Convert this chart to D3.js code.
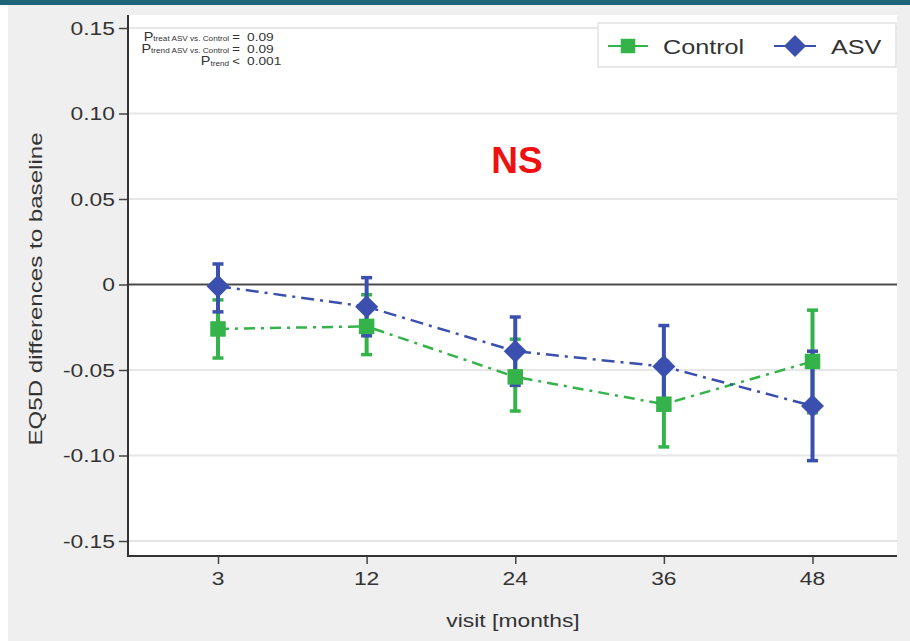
<!DOCTYPE html>
<html>
<head>
<meta charset="utf-8">
<script src="https://cdn.jsdelivr.net/npm/d3@7"></script>
<style>
  html, body { margin: 0; padding: 0; background: #ffffff; }
  svg { display: block; }
  text { font-family: "Liberation Sans", Arial, Helvetica, sans-serif; }
</style>
</head>
<body>
<svg id="chart" width="910" height="641"></svg>
<script>
// Visits (months) on the x axis
const visits = ["3", "12", "24", "36", "48"];

// Control group: mean change in EQ5D and 95% CI bounds
const controlMean  = [-0.026, -0.0245, -0.054, -0.070, -0.045];
const controlLower = [-0.043, -0.041, -0.074, -0.095, -0.075];
const controlUpper = [-0.009, -0.006, -0.032, -0.045, -0.015];

// ASV group: mean change in EQ5D and 95% CI bounds
const asvMean  = [-0.001, -0.013, -0.039, -0.048, -0.071];
const asvLower = [-0.016, -0.030, -0.059, -0.072, -0.103];
const asvUpper = [0.012, 0.004, -0.019, -0.024, -0.039];

// Y axis ticks
const yTicks = [0.15, 0.10, 0.05, 0, -0.05, -0.10, -0.15];
const yTickLabels = ["0.15", "0.10", "0.05", "0", "-0.05", "-0.10", "-0.15"];

// Annotation lines (p-values)
const pLabels = [
  { sub: "treat ASV vs. Control", op: "=", val: "0.09" },
  { sub: "trend ASV vs. Control", op: "=", val: "0.09" },
  { sub: "trend", op: "<", val: "0.001" }
];

const GREEN = "#34b34a";
const BLUE = "#3b50ae";
const INK = "#333333";
const WIDE = 1.27; // horizontal widening of the axis lettering

const svg = d3.select("#chart");

// text drawn with a horizontal widening along its reading direction
function wideText(parent, x, y, str, size, anchor, stretch, rotate) {
  return parent.append("text")
    .attr("transform", `translate(${x},${y})` + (rotate ? ` rotate(${rotate})` : "") + ` scale(${stretch},1)`)
    .attr("text-anchor", anchor)
    .attr("font-size", size)
    .attr("fill", INK)
    .text(str);
}

// page frame: teal header strip and grey panel
svg.append("rect").attr("x", 0).attr("y", 0).attr("width", 910).attr("height", 641).attr("fill", "#ffffff");
svg.append("rect").attr("x", 8).attr("y", 4).attr("width", 902).attr("height", 637).attr("fill", "#efefef");
svg.append("rect").attr("x", 0).attr("y", 0).attr("width", 910).attr("height", 5).attr("fill", "#1d6479");

const plot = { left: 128, right: 897, top: 15, bottom: 556 };

svg.append("rect")
  .attr("x", plot.left).attr("y", plot.top)
  .attr("width", plot.right - plot.left).attr("height", plot.bottom - plot.top)
  .attr("fill", "#ffffff");

const x = d3.scalePoint().domain(visits).range([218, 812.5]);
const y = d3.scaleLinear().domain([-0.15, 0.15]).range([541, 28]);

// horizontal gridlines
svg.append("g").selectAll("line")
  .data(yTicks.filter(d => d !== 0))
  .join("line")
  .attr("x1", plot.left).attr("x2", plot.right)
  .attr("y1", d => y(d)).attr("y2", d => y(d))
  .attr("stroke", "#e6e6e6").attr("stroke-width", 2);

// zero reference line
svg.append("line")
  .attr("x1", plot.left).attr("x2", plot.right)
  .attr("y1", y(0)).attr("y2", y(0))
  .attr("stroke", "#4a4a4a").attr("stroke-width", 2);

// y axis (ticks from the axis generator, widened labels)
const yAxis = d3.axisLeft(y).tickValues(yTicks).tickSize(9).tickFormat("");
const gy = svg.append("g").attr("transform", `translate(${plot.left},0)`).call(yAxis);
gy.select(".domain").remove();
gy.selectAll(".tick line").attr("stroke", "#444").attr("stroke-width", 1.5);
yTicks.forEach((t, i) => {
  wideText(svg, plot.left - 13, y(t) + 6.5, yTickLabels[i], 18, "end", WIDE);
});
svg.append("line")
  .attr("x1", plot.left).attr("x2", plot.left)
  .attr("y1", plot.top).attr("y2", plot.bottom)
  .attr("stroke", INK).attr("stroke-width", 2);

// x axis
const xAxis = d3.axisBottom(x).tickSize(8).tickFormat("");
const gx = svg.append("g").attr("transform", `translate(0,${plot.bottom})`).call(xAxis);
gx.select(".domain").remove();
gx.selectAll(".tick line").attr("stroke", "#444").attr("stroke-width", 1.5);
visits.forEach(v => {
  wideText(svg, x(v), 585, v, 18, "middle", WIDE);
});
svg.append("line")
  .attr("x1", plot.left - 1).attr("x2", plot.right)
  .attr("y1", plot.bottom).attr("y2", plot.bottom)
  .attr("stroke", INK).attr("stroke-width", 2);

// axis titles
wideText(svg, 513, 627, "visit [months]", 18, "middle", WIDE);
wideText(svg, 42, 289, "EQ5D differences to baseline", 19, "middle", WIDE, -90);

// series
const series = [
  { name: "Control", color: GREEN, mean: controlMean, lo: controlLower, hi: controlUpper, dash: "11,6,3,6", shape: "square" },
  { name: "ASV", color: BLUE, mean: asvMean, lo: asvLower, hi: asvUpper, dash: "13,6,3,6", shape: "diamond" }
];

const line = d3.line().x(d => x(d.v)).y(d => y(d.m));
series.forEach(s => {
  const pts = visits.map((v, i) => ({ v, m: s.mean[i] }));
  svg.append("path")
    .datum(pts)
    .attr("d", line)
    .attr("fill", "none")
    .attr("stroke", s.color)
    .attr("stroke-width", 2.5)
    .attr("stroke-dasharray", s.dash);
});

// error bars
series.forEach(s => {
  const g = svg.append("g");
  visits.forEach((v, i) => {
    const cx = x(v);
    g.append("line")
      .attr("x1", cx).attr("x2", cx)
      .attr("y1", y(s.lo[i])).attr("y2", y(s.hi[i]))
      .attr("stroke", s.color).attr("stroke-width", 4);
    [s.lo[i], s.hi[i]].forEach(b => {
      g.append("line")
        .attr("x1", cx - 5.5).attr("x2", cx + 5.5)
        .attr("y1", y(b)).attr("y2", y(b))
        .attr("stroke", s.color).attr("stroke-width", 3.5);
    });
  });
});

// markers
const squareSym = d3.symbol().type(d3.symbolSquare).size(240);
const diamondPath = r => `M0,${-r}L${r},0L0,${r}L${-r},0Z`;
series.forEach(s => {
  svg.append("g").selectAll("path")
    .data(visits.map((v, i) => ({ v, m: s.mean[i] })))
    .join("path")
    .attr("transform", d => `translate(${x(d.v)},${y(d.m)})`)
    .attr("d", s.shape === "square" ? squareSym() : diamondPath(11.5))
    .attr("fill", s.color);
});

// legend
const leg = svg.append("g");
leg.append("rect")
  .attr("x", 598).attr("y", 23).attr("width", 298).attr("height", 44)
  .attr("fill", "#ffffff").attr("stroke", "#e2e2e2").attr("stroke-width", 1.5);
const legItems = [
  { s: series[0], x0: 608, x1: 648, tx: 663 },
  { s: series[1], x0: 774, x1: 816, tx: 831 }
];
legItems.forEach(it => {
  leg.append("line")
    .attr("x1", it.x0).attr("x2", it.x1).attr("y1", 46).attr("y2", 46)
    .attr("stroke", it.s.color).attr("stroke-width", 2);
  leg.append("path")
    .attr("transform", `translate(${(it.x0 + it.x1) / 2},46)`)
    .attr("d", it.s.shape === "square" ? d3.symbol().type(d3.symbolSquare).size(210)() : diamondPath(11))
    .attr("fill", it.s.color);
  wideText(leg, it.tx, 53.5, it.s.name, 21, "start", 1.2);
});

// NS annotation
svg.append("text")
  .attr("x", 517).attr("y", 173)
  .attr("text-anchor", "middle")
  .attr("font-size", 37).attr("font-weight", "bold").attr("fill", "#f01010")
  .text("NS");

// p-values
const pg = svg.append("g");
pLabels.forEach((p, i) => {
  const yy = 40.5 + i * 12.3;
  const t = pg.append("text")
    .attr("transform", `translate(229,${yy}) scale(1.2,1)`)
    .attr("text-anchor", "end")
    .attr("fill", INK);
  t.append("tspan").attr("font-size", 12).text("P");
  t.append("tspan").attr("font-size", 6.8).attr("dy", 0.5).text(p.sub);
  wideText(pg, 236, yy, p.op, 11, "middle", 1.2);
  wideText(pg, 247, yy, p.val, 11, "start", 1.25);
});
</script>
</body>
</html>
